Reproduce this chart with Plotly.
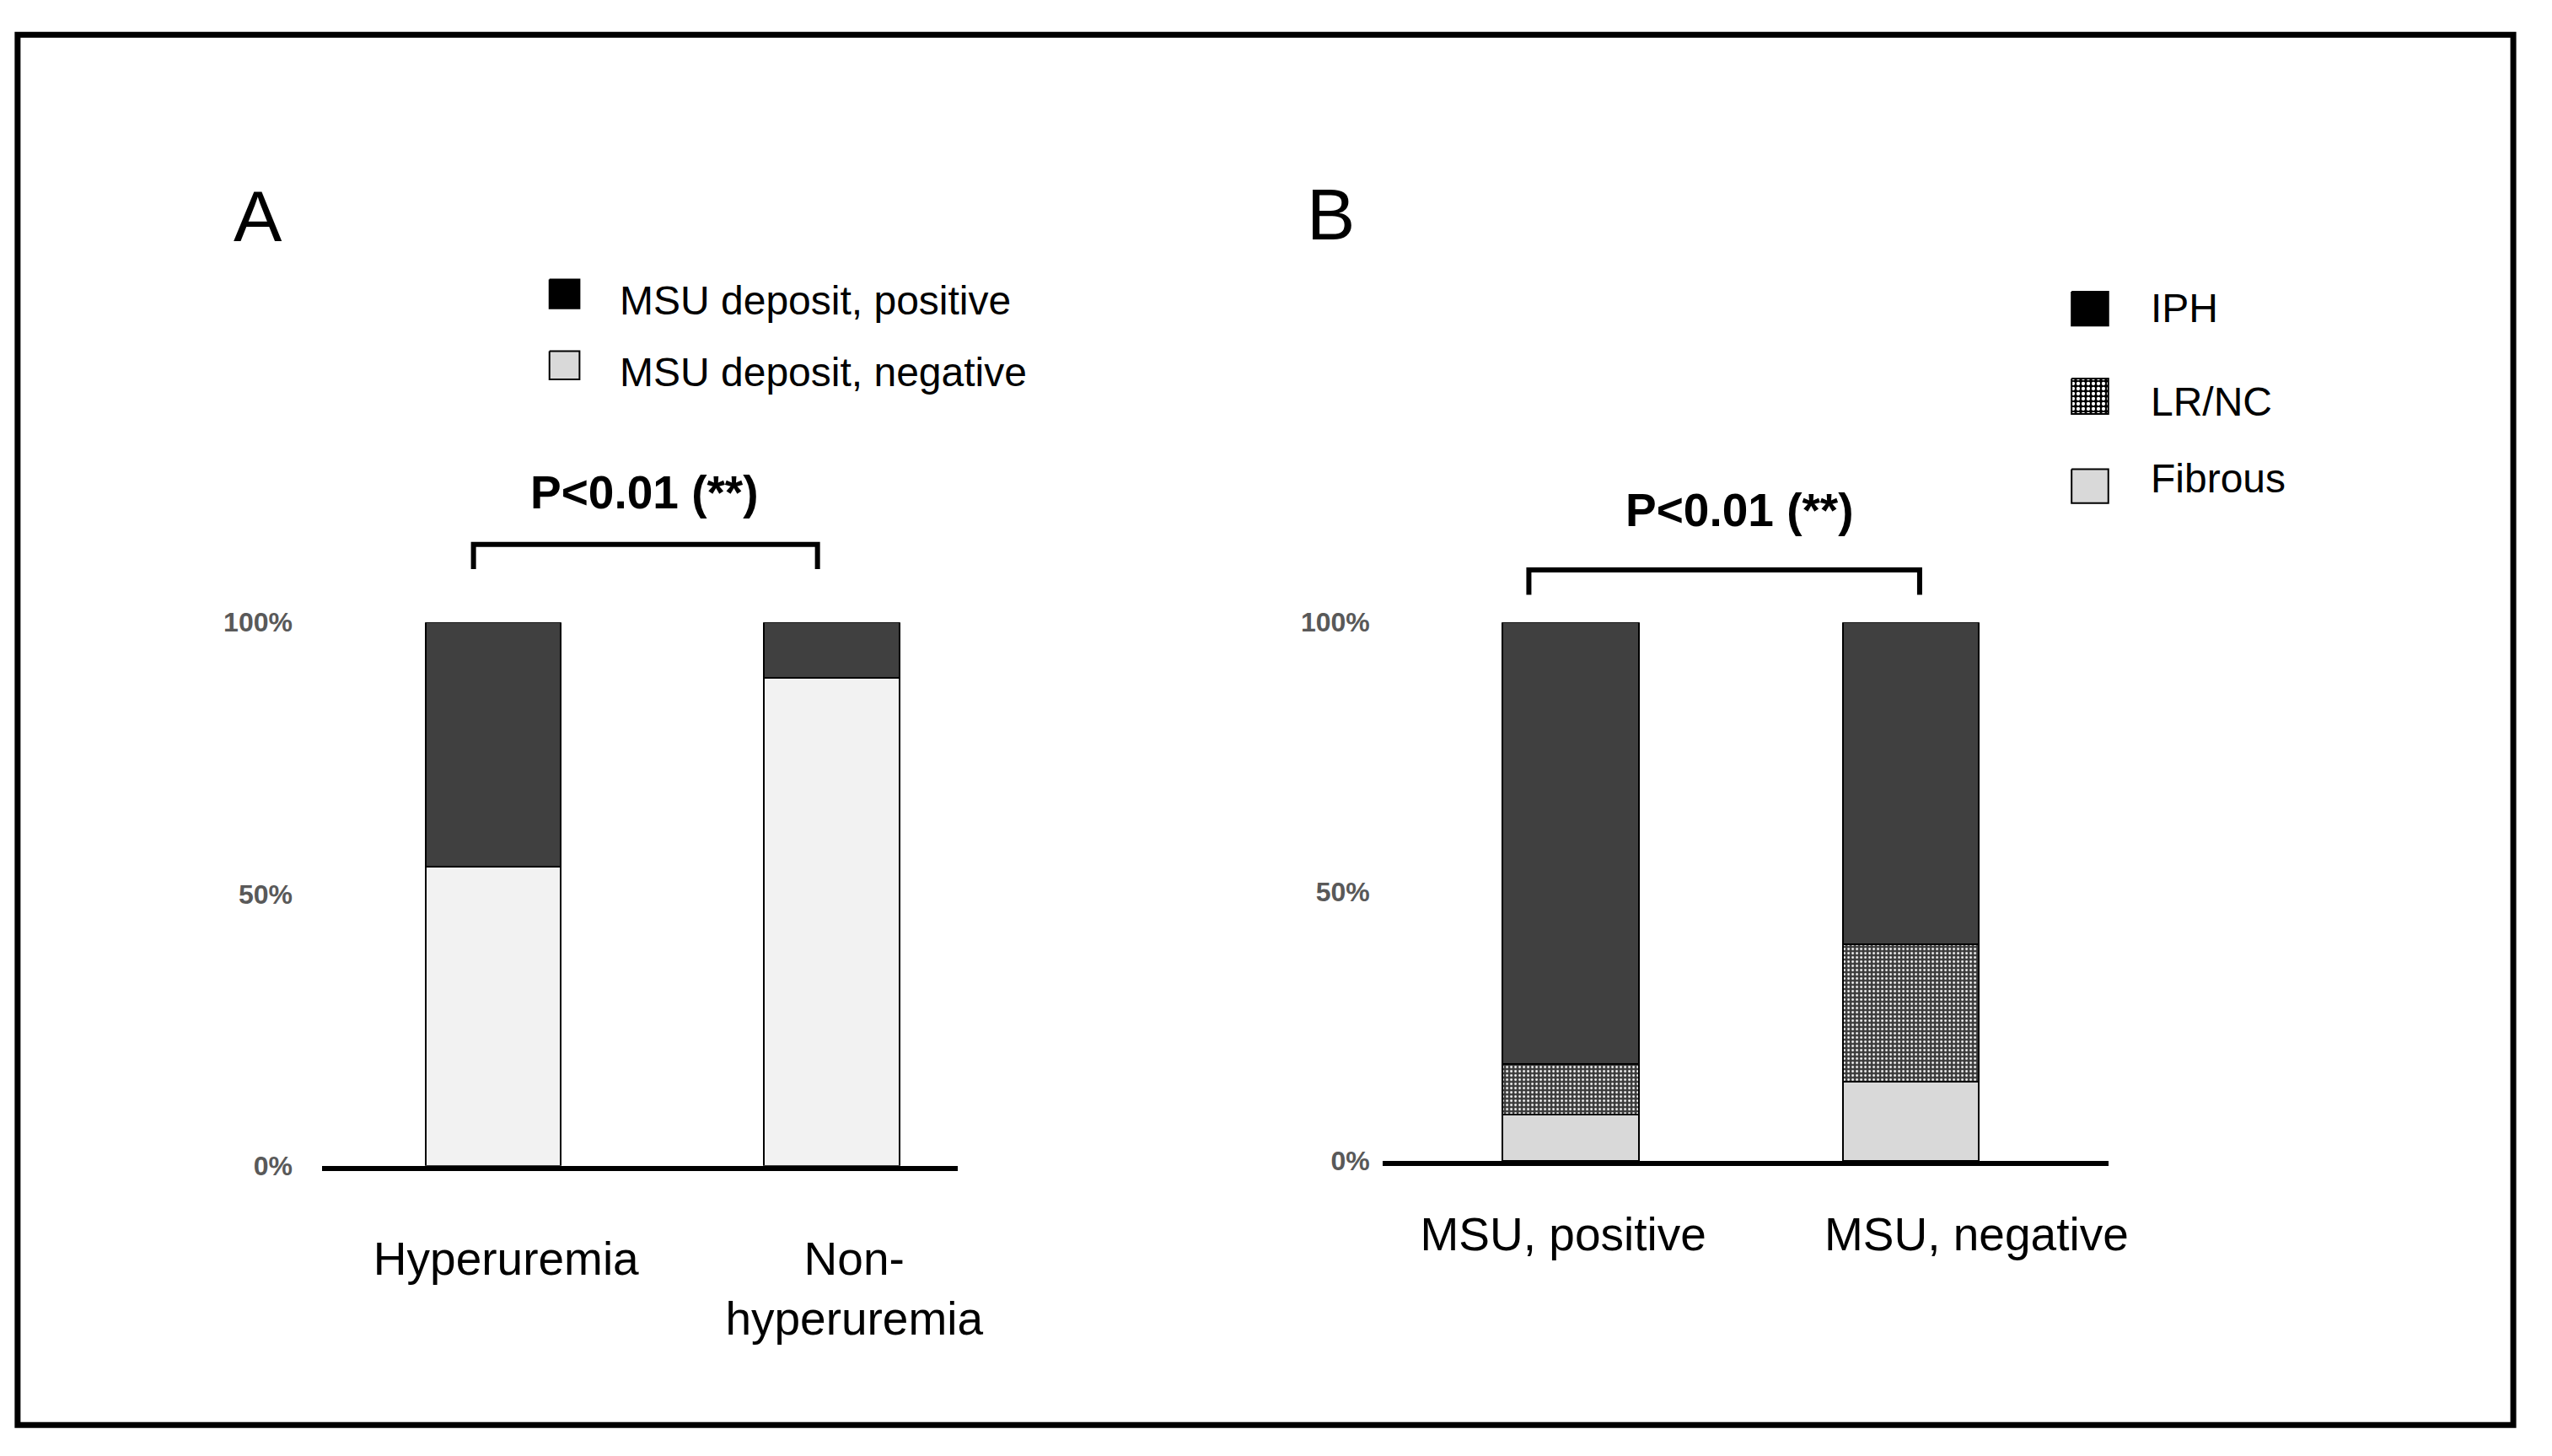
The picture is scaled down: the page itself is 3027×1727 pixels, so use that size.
import plotly.graph_objects as go

# page body has an 8px margin: the figure is sized so that figure + margins = window
OFF = 8
SW, SH = 3027, 1727          # screen size
W, H = SW - 2 * OFF, SH - 2 * OFF

# ---- data ----
cats_a = ["Hyperuremia", "Non-<br>hyperuremia"]
msu_negative = [55.0, 89.8]
msu_positive = [45.0, 10.2]

cats_b = ["MSU, positive", "MSU, negative"]
fibrous = [8.6, 14.7]
lrnc = [9.4, 25.5]
iph = [82.0, 59.8]

y_tickvals = [0, 50, 100]
y_ticktext = ["0%", "50%", "100%"]

legend_a = ["MSU deposit, positive", "MSU deposit, negative"]
legend_b = ["IPH", "LR/NC", "Fibrous"]
p_text = "P<0.01 (**)"

# ---- styles ----
FONT = "Liberation Sans, Arial, sans-serif"
DARK = "#404040"
LIGHT = "#f2f2f2"
FIB = "#d9d9d9"
OUT = dict(color="black", width=2)
BW = 0.40
# label positions (category labels sit slightly right of the bar centres)
label_pos_a = [0.038, 1.067]
label_pos_b = [-0.022, 1.194]


def px_x(v):
    return (v - OFF) / W


def px_y(v):
    return 1 - (v - OFF) / H


fig = go.Figure()

xa = list(range(len(cats_a)))
xb = list(range(len(cats_b)))

fig.add_trace(go.Bar(x=xa, y=msu_negative, width=BW, marker=dict(color=LIGHT, line=OUT),
                     xaxis="x", yaxis="y", cliponaxis=False, showlegend=False))
fig.add_trace(go.Bar(x=xa, y=msu_positive, width=BW, marker=dict(color=DARK, line=OUT),
                     xaxis="x", yaxis="y", cliponaxis=False, showlegend=False))

fig.add_trace(go.Bar(x=xb, y=fibrous, width=BW, marker=dict(color=FIB, line=OUT),
                     xaxis="x2", yaxis="y2", cliponaxis=False, showlegend=False))
fig.add_trace(go.Bar(x=xb, y=lrnc, width=BW,
                     marker=dict(color="#3a3a3a", line=OUT,
                                 pattern=dict(shape=".", bgcolor="#3a3a3a", fgcolor="white",
                                              size=5, solidity=0.25, fillmode="replace")),
                     xaxis="x2", yaxis="y2", cliponaxis=False, showlegend=False))
fig.add_trace(go.Bar(x=xb, y=iph, width=BW, marker=dict(color=DARK, line=OUT),
                     xaxis="x2", yaxis="y2", cliponaxis=False, showlegend=False))


# ---- legend keys (overlay axis in screen pixels) ----
def key(x0, y0, x1, y1, color, pattern=None):
    kw = dict(x=[x0, x1, x1, x0, x0], y=[y0, y0, y1, y1, y0], mode="lines",
              fill="toself", fillcolor=color, line=dict(color="black", width=2),
              xaxis="x3", yaxis="y3", showlegend=False, hoverinfo="skip")
    if pattern:
        kw["fillpattern"] = pattern
    fig.add_trace(go.Scatter(**kw))


key(658, 320, 694, 355, "black")
key(658, 407, 694, 441, FIB)
key(2481, 335, 2525, 376, "black")
key(2481, 440, 2525, 483, "black",
    pattern=dict(shape=".", bgcolor="black", fgcolor="white", size=6, solidity=0.4,
                 fillmode="replace"))
key(2481, 550, 2525, 591, FIB)

annotations = []


def text(x, y, s, size, bold=False, xanchor="left", color="black"):
    annotations.append(dict(x=x, y=y, xref="x3", yref="y3", text=s, showarrow=False,
                            xanchor=xanchor, yanchor="middle",
                            font=dict(family=FONT, size=size, color=color,
                                      weight="bold" if bold else "normal")))


text(309, 243, "A", 86, xanchor="center")
text(1594, 241, "B", 86, xanchor="center")
text(740, 346, legend_a[0], 48)
text(740, 432, legend_a[1], 48)
text(2574, 355, legend_b[0], 48)
text(2574, 468, legend_b[1], 48)
text(2574, 561, legend_b[2], 48)
text(772, 578, p_text, 55, bold=True, xanchor="center")
text(2083, 599, p_text, 55, bold=True, xanchor="center")

shapes = [
    dict(type="rect", xref="x3", yref="y3", x0=21, x1=3010, y0=23.5, y1=1708,
         line=dict(color="black", width=7)),
    dict(type="path", xref="x3", yref="y3", path="M 567 671 L 567 641 L 979 641 L 979 671",
         line=dict(color="black", width=6)),
    dict(type="path", xref="x3", yref="y3", path="M 1831 702 L 1831 672 L 2299 672 L 2299 702",
         line=dict(color="black", width=6)),
]

axis_font = dict(family=FONT, size=55, color="black")
ytick_font = dict(family=FONT, size=32, color="#595959", weight="bold")

fig.update_layout(
    width=W, height=H, margin=dict(l=0, r=0, t=0, b=0),
    paper_bgcolor="white", plot_bgcolor="rgba(0,0,0,0)",
    barmode="stack", showlegend=False,
    annotations=annotations, shapes=shapes,
    xaxis=dict(domain=[px_x(386), px_x(1147)], range=[-0.505, 1.373],
               tickvals=label_pos_a, ticktext=cats_a, tickfont=axis_font,
               showline=True, linewidth=6, linecolor="black",
               ticks="outside", ticklen=57, tickcolor="rgba(0,0,0,0)",
               showgrid=False, zeroline=False, anchor="y"),
    yaxis=dict(domain=[px_y(1394), px_y(735.5)], range=[0, 100],
               tickvals=y_tickvals, ticktext=y_ticktext, tickfont=ytick_font,
               showline=False, ticks="outside", ticklen=28, tickcolor="rgba(0,0,0,0)",
               showgrid=False, zeroline=False, anchor="x"),
    xaxis2=dict(domain=[px_x(1656), px_x(2525)], range=[-0.553, 1.582],
                tickvals=label_pos_b, ticktext=cats_b, tickfont=axis_font,
                showline=True, linewidth=6, linecolor="black",
                ticks="outside", ticklen=34, tickcolor="rgba(0,0,0,0)",
                showgrid=False, zeroline=False, anchor="y2"),
    yaxis2=dict(domain=[px_y(1388), px_y(735.5)], range=[0, 100],
                tickvals=y_tickvals, ticktext=y_ticktext, tickfont=ytick_font,
                showline=False, ticks="outside", ticklen=8, tickcolor="rgba(0,0,0,0)",
                showgrid=False, zeroline=False, anchor="x2"),
    xaxis3=dict(domain=[0, 1], range=[OFF, OFF + W], visible=False, anchor="y3",
                fixedrange=True),
    yaxis3=dict(domain=[0, 1], range=[OFF + H, OFF], visible=False, anchor="x3",
                fixedrange=True),
)

fig.write_html("out.html", config={"displayModeBar": False})
